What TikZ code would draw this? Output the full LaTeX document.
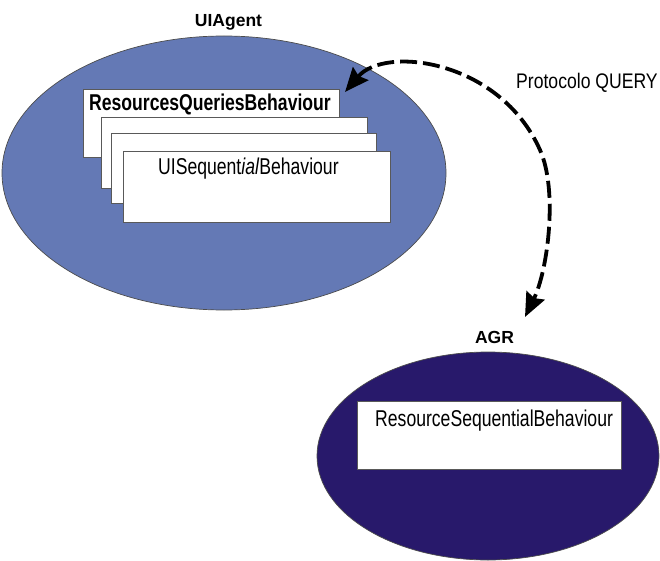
\documentclass[tikz,border=0pt]{standalone}
\usepackage{fontspec}
\setmainfont{Liberation Sans}
\usetikzlibrary{arrows.meta}
\definecolor{uiblue}{RGB}{100,121,181}
\definecolor{agrnavy}{RGB}{40,25,107}
\tikzset{
  agent/.style={draw=black!70, line width=0.7pt},
  behbox/.style={draw=black!65, line width=0.7pt, fill=white},
  agentname/.style={font=\fontsize{17.5}{20}\selectfont\bfseries, inner sep=0pt, anchor=base},
  behname/.style={font=\fontsize{17.6}{20}\selectfont, inner sep=0pt, anchor=base west},
  query/.style={line width=3.8pt, dash pattern=on 17pt off 6pt,
    {Stealth[length=24pt,width=20pt,inset=3pt]}-{Stealth[length=24pt,width=20pt,inset=3pt]}},
}
\newcommand{\tallish}[1]{\scalebox{1}[1.3]{#1}}
\begin{document}
\begin{tikzpicture}[x=1pt,y=-1pt]
  \useasboundingbox (0,0) rectangle (660,561);

  % UIAgent and its stacked behaviours
  \draw[agent, fill=uiblue] (224,173) ellipse [x radius=222, y radius=137];
  \node[agentname] (uiagent) at (228.5,27) {UIAgent};
  \draw[behbox] (83,89) rectangle (339,157);
  \node[behname, font=\fontsize{17.6}{20}\selectfont\bfseries] (rqb) at (89,111) {\tallish{ResourcesQueriesBehaviour}};
  \draw[behbox] (101,117) rectangle (367,188);
  \draw[behbox] (111,133) rectangle (376,203);
  \draw[behbox] (123,151) rectangle (390,222);
  \node[behname] (uiseq) at (158,175) {\tallish{UISequent\textit{ial}Behaviour}};

  % AGR and its behaviour
  \draw[agent, fill=agrnavy] (488,456) ellipse [x radius=171, y radius=104];
  \node[agentname] (agr) at (494.5,343) {AGR};
  \draw[behbox] (357,401) rectangle (621,469);
  \node[behname] (resseq) at (375,426) {\tallish{ResourceSequentialBehaviour}};

  % QUERY protocol exchange
  \coordinate (qtop) at (345,92);
  \coordinate (qbot) at (525,317);
  \coordinate (qmid) at (540,150);
  \draw[query] (qtop) .. controls (385,45) and (500,60) .. (qmid)
                      .. controls (558,190) and (548,270) .. (qbot);
  \node[behname] (proto) at (516,89) {\scalebox{1}[1.2]{Protocolo QUERY}};
\end{tikzpicture}
\end{document}
